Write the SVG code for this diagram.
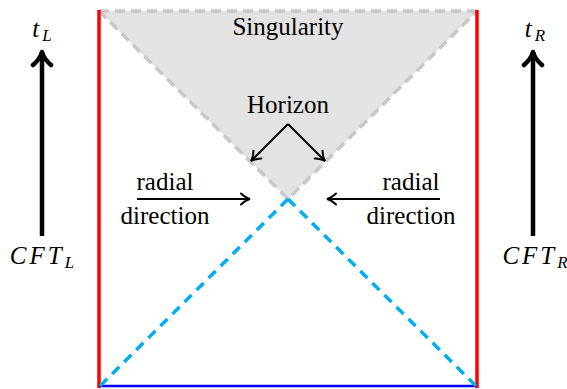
<svg xmlns="http://www.w3.org/2000/svg" width="567" height="389" viewBox="0 0 567 389">
<style>
.t{font-family:"Liberation Serif","DejaVu Serif",serif;font-size:25px;fill:#000;text-anchor:middle}
.i{font-style:italic;letter-spacing:3px}
.s{font-size:17px;letter-spacing:0}
.arr{stroke:#000;stroke-width:2;fill:none}
.big{stroke:#000;stroke-width:4.5;fill:none}
</style>
<defs>
<marker id="to" markerUnits="userSpaceOnUse" markerWidth="16" markerHeight="16" refX="12" refY="8" orient="auto" viewBox="0 0 16 16">
<path d="M3,2.5 Q8,7 12,8 Q8,9 3,13.5" fill="none" stroke="#000" stroke-width="2" stroke-linecap="round"/>
</marker>
<marker id="tob" markerUnits="userSpaceOnUse" markerWidth="24" markerHeight="24" refX="18" refY="12" orient="auto" viewBox="0 0 24 24">
<path d="M5,3 Q11,10 18,12 Q11,14 5,21" fill="none" stroke="#000" stroke-width="4.5" stroke-linecap="round" stroke-linejoin="round"/>
</marker>
</defs>
<g id="singularity-region">
<polygon points="99,11 477,11 288,199" fill="#e3e3e3" stroke="none"/>
<path d="M99,11 L477,11 M99,11 L288,199 L477,11" fill="none" stroke="#c8c8c8" stroke-width="3.5" stroke-dasharray="10,6"/>
</g>
<g id="boundaries">
<line x1="99" y1="10" x2="99" y2="388" stroke="#ff0000" stroke-width="3.5"/>
<line x1="477" y1="10" x2="477" y2="388" stroke="#ff0000" stroke-width="3.5"/>
<line x1="100" y1="386" x2="476" y2="386" stroke="#0000ff" stroke-width="2.5"/>
</g>
<g id="connectors">
<path d="M288,199 L100,386 M288,199 L476,386" fill="none" stroke="#00aeef" stroke-width="3.5" stroke-dasharray="10,7"/>
<line class="arr" x1="288" y1="124" x2="251" y2="161" marker-end="url(#to)"/>
<line class="arr" x1="288" y1="124" x2="325" y2="161" marker-end="url(#to)"/>
<line class="arr" x1="137" y1="199" x2="250" y2="199" marker-end="url(#to)"/>
<line class="arr" x1="440" y1="199" x2="327" y2="199" marker-end="url(#to)"/>
<line class="big" x1="42" y1="236" x2="42" y2="52" marker-end="url(#tob)"/>
<line class="big" x1="533" y1="236" x2="533" y2="52" marker-end="url(#tob)"/>
</g>
<g id="labels">
<text class="t" x="288" y="35">Singularity</text>
<text class="t" x="288" y="113">Horizon</text>
<text class="t" x="165" y="190">radial</text>
<text class="t" x="165" y="224">direction</text>
<text class="t" x="411" y="190">radial</text>
<text class="t" x="411" y="224">direction</text>
<text class="t i" x="42" y="37">t<tspan class="s" dy="4">L</tspan></text>
<text class="t i" x="535" y="37">t<tspan class="s" dy="4">R</tspan></text>
<text class="t i" x="42" y="264">CFT<tspan class="s" dy="4">L</tspan></text>
<text class="t i" x="535" y="264">CFT<tspan class="s" dy="4">R</tspan></text>
</g>
</svg>
